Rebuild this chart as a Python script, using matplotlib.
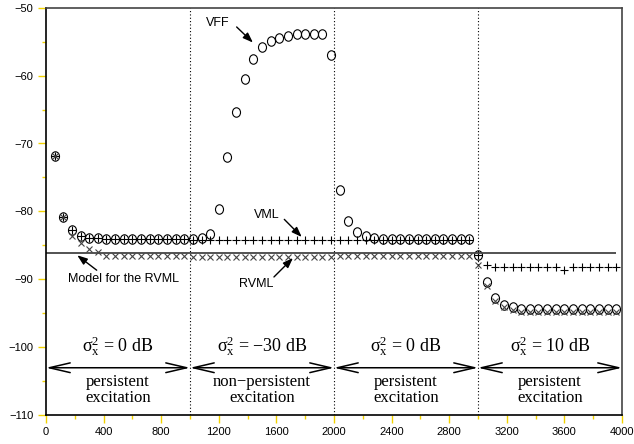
import numpy as np
import matplotlib
matplotlib.use("Agg")
import matplotlib.pyplot as plt
from matplotlib.path import Path
from matplotlib.transforms import Affine2D
from matplotlib.ticker import MultipleLocator

# sample index (one marker every 60 samples)
samples = np.arange(60, 4000, 60)

vff = [-71.8, -80.8, -82.8, -83.6, -83.9, -84.0,
       -84.1, -84.1, -84.1, -84.1, -84.1, -84.1, -84.1, -84.1, -84.1, -84.1,
       -84.1, -84.0, -83.3,
       -79.6, -72.0, -65.3, -60.5, -57.6, -55.8, -54.8, -54.4, -54.1, -53.9,
       -53.8, -53.8, -53.8, -56.9,
       -76.8, -81.5, -83.1, -83.7, -84.0,
       -84.1, -84.1, -84.1, -84.1, -84.1, -84.1, -84.1, -84.1, -84.1, -84.1, -84.1,
       -86.4,
       -90.5, -92.8, -93.8, -94.2, -94.4,
       -94.5, -94.5, -94.5, -94.5, -94.5, -94.5, -94.5, -94.5, -94.5, -94.5, -94.5]

vml = [-71.8, -80.8, -82.8, -83.6, -83.9, -84.0,
       -84.1, -84.1, -84.1, -84.1, -84.1, -84.1, -84.1, -84.1, -84.1, -84.1,
       -84.2, -84.2, -84.3, -84.3, -84.3, -84.3, -84.3, -84.3, -84.3, -84.3,
       -84.3, -84.3, -84.3, -84.3, -84.3, -84.3, -84.3,
       -84.2, -84.2, -84.2, -84.2, -84.2, -84.2, -84.2, -84.2, -84.2, -84.2,
       -84.2, -84.2, -84.2, -84.2, -84.2, -84.2,
       -86.4,
       -87.9, -88.2, -88.2, -88.2, -88.2, -88.2, -88.2, -88.2, -88.2, -88.7,
       -88.2, -88.2, -88.2, -88.2, -88.2, -88.2]

rvml = [-71.8, -80.8, -83.7, -84.7, -85.5, -86.0,
        -86.6, -86.6, -86.6, -86.6, -86.6, -86.6, -86.6, -86.6, -86.6, -86.6,
        -86.7, -86.7, -86.7, -86.7, -86.7, -86.7, -86.7, -86.7, -86.7, -86.7,
        -86.7, -86.7, -86.7, -86.7, -86.7, -86.7, -86.7,
        -86.6, -86.6, -86.6, -86.6, -86.6, -86.6, -86.6, -86.6, -86.6, -86.6,
        -86.6, -86.6, -86.6, -86.6, -86.6, -86.6,
        -88.0,
        -91.0, -93.2, -94.2, -94.6, -94.8,
        -94.9, -94.9, -94.9, -94.9, -94.9, -94.9, -94.9, -94.9, -94.9, -94.9, -94.9]

model_level = -86.1
model_end = 3960
boundaries = [1000, 2000, 3000]
segments = [(0, 1000), (1000, 2000), (2000, 3000), (3000, 4000)]
power_labels = ["0", "\u221230", "0", "10"]
excitation = ["persistent\nexcitation", "non\u2212persistent\nexcitation",
              "persistent\nexcitation", "persistent\nexcitation"]

plt.rcParams["mathtext.fontset"] = "custom"
plt.rcParams["mathtext.rm"] = "Liberation Serif"
plt.rcParams["mathtext.it"] = "Liberation Serif:italic"

# letter-like "O" marker, a bit taller than wide
o_marker = Affine2D().scale(0.85, 1.0).transform_path(Path.unit_circle())

fig = plt.figure(figsize=(6.34, 4.44), dpi=100)
ax = fig.add_axes([46 / 634, 1 - 414.5 / 444, 576 / 634, 406.5 / 444])

ax.plot(samples, vff, linestyle="none", marker=o_marker, ms=6.8, mfc="none",
        mec="black", mew=0.8)
ax.plot(samples, vml, linestyle="none", marker="+", ms=5.5, mec="black", mew=0.8)
ax.plot(samples, rvml, linestyle="none", marker="x", ms=4.5, mec="#444444", mew=0.8)

ax.hlines(model_level, 0, model_end, color="#444444", lw=1.3)
for b in boundaries:
    ax.axvline(b, color="black", ls=(0, (1, 2)), lw=0.8)

ax.set_xlim(0, 4000)
ax.set_ylim(-110, -50)
ax.xaxis.set_major_locator(MultipleLocator(400))
ax.xaxis.set_minor_locator(MultipleLocator(200))
ax.yaxis.set_major_locator(MultipleLocator(10))
ax.yaxis.set_minor_locator(MultipleLocator(5))

ax.tick_params(which="both", direction="out", color="#f2d200", width=1.0,
               labelcolor="black", labelsize=8)
ax.tick_params(which="major", length=6, pad=3)
ax.tick_params(which="minor", length=3)
for lab in ax.get_xticklabels() + ax.get_yticklabels():
    lab.set_family("Liberation Sans")

for side in ["left", "bottom"]:
    ax.spines[side].set_color("black")
    ax.spines[side].set_linewidth(1.2)
for side in ["top", "right"]:
    ax.spines[side].set_color("#444444")
    ax.spines[side].set_linewidth(1.2)

# curve annotations
sans = dict(family="Liberation Sans", fontsize=9)
arr = dict(arrowstyle="-|>,head_length=0.6,head_width=0.22", color="black",
           lw=1.0, shrinkA=0, shrinkB=0)
ax.annotate("", xy=(1437, -55.1), xytext=(1324, -52.8), arrowprops=arr)
ax.text(1194, -52.2, "VFF", ha="center", va="center", **sans)
ax.annotate("", xy=(1776, -83.8), xytext=(1655, -81.2), arrowprops=arr)
ax.text(1535, -80.6, "VML", ha="center", va="center", **sans)
ax.annotate("", xy=(1715, -86.9), xytext=(1583, -89.7), arrowprops=arr)
ax.text(1458, -90.8, "RVML", ha="center", va="center", **sans)
ax.annotate("", xy=(217, -86.5), xytext=(352, -88.7), arrowprops=arr)
ax.text(538, -90.0, "Model for the RVML", ha="center", va="center", **sans)

# excitation regions
serif = dict(family="Liberation Serif", fontsize=12)
for (x0, x1), pw, ex in zip(segments, power_labels, excitation):
    xc = (x0 + x1) / 2
    ax.text(xc, -99.9, r"$\mathrm{\sigma}_{\mathrm{x}}^{\mathrm{2}}$ = " + pw + " dB",
            ha="center", va="center", family="Liberation Serif", fontsize=13)
    ax.annotate("", xy=(x0, -103.1), xytext=(x1, -103.1),
                arrowprops=dict(arrowstyle="<->,head_length=1.5,head_width=0.35",
                                color="black", lw=1.1, shrinkA=0, shrinkB=0))
    ax.text(xc, -106.4, ex, ha="center", va="center", linespacing=1.0, **serif)

fig.savefig("out.png", dpi=100)
